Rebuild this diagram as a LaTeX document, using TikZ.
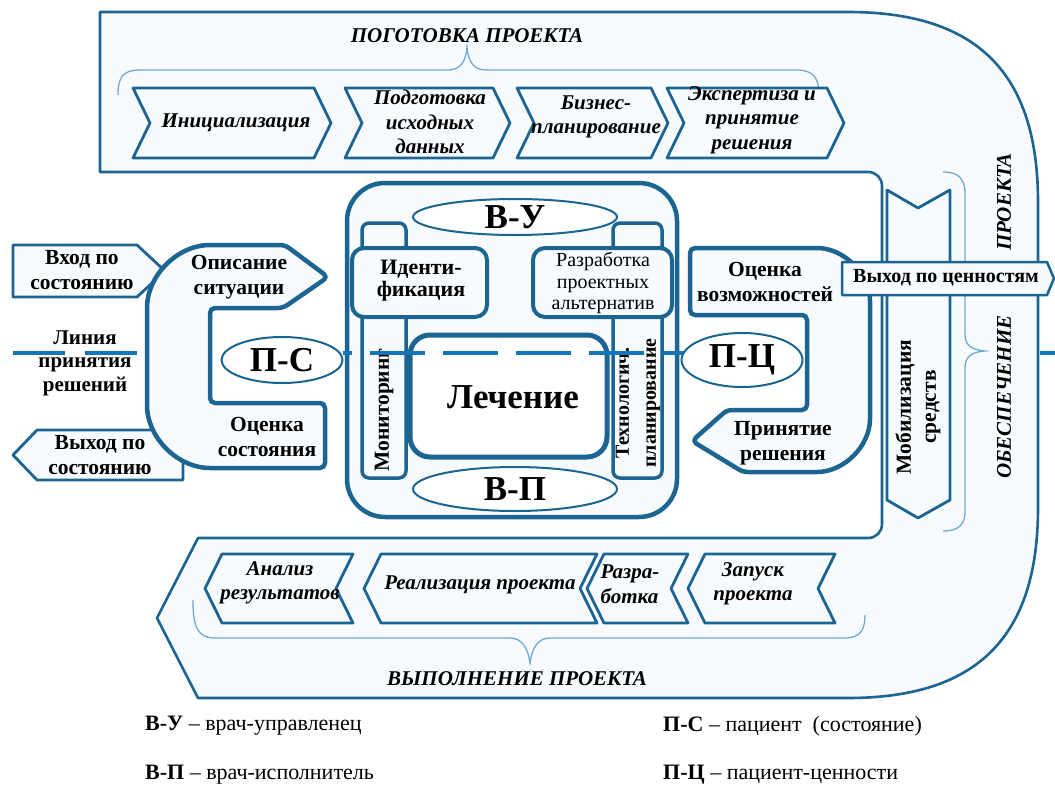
\documentclass[tikz,border=0pt]{standalone}
\usepackage{fontspec}
\setmainfont{Liberation Serif}
\usetikzlibrary{shapes.geometric}
\definecolor{dblue}{RGB}{28,100,145}
\definecolor{lblue}{RGB}{110,170,215}
\definecolor{lineblue}{RGB}{20,118,185}
\definecolor{pale}{RGB}{248,251,253}
\tikzset{
  shapeline/.style={draw=dblue, fill=pale, line join=round},
  chev/.style={shapeline, line width=2.8pt},
  thickshape/.style={shapeline, line width=4.5pt},
  bracestyle/.style={draw=lblue, line width=1.3pt},
  ital/.style={font=\fontsize{21}{24.5}\selectfont\bfseries\itshape, align=center, inner sep=0pt},
  lbl/.style={font=\fontsize{21.5}{24.5}\selectfont\bfseries, align=center, inner sep=0pt},
  big/.style={font=\fontsize{35}{38}\selectfont\bfseries},
  oval/.style={draw=dblue, fill=white, ellipse, line width=2pt, inner sep=0pt},
  legend/.style={font=\fontsize{22}{24}\selectfont, anchor=west, inner sep=0pt},
  declinesolid/.style={draw=lineblue, line width=4.5pt},
}
\newcommand\rchev[4]{% left x, right x, top y, bottom y
  \draw[chev] (#1,#3) -- (#2,#3) -- ({#2+17},{(#3+#4)/2}) -- (#2,#4) -- (#1,#4) -- ({#1+17},{(#3+#4)/2}) -- cycle;}
\newcommand\lchev[4]{%
  \draw[chev] (#1,#3) -- (#2,#3) -- ({#2-17},{(#3+#4)/2}) -- (#2,#4) -- (#1,#4) -- ({#1-17},{(#3+#4)/2}) -- cycle;}
\begin{document}
\begin{tikzpicture}[x=1pt,y=-1pt]
\useasboundingbox[fill=white] (0,0) rectangle (1055,787);

% outer band shape
\draw[shapeline, line width=2.6pt] (100,12) -- (848,12) .. controls (977,12) and (1038,73) .. (1038,202)
  -- (1038,508) .. controls (1038,637) and (977,698) .. (848,698) -- (198,698) -- (157,618) -- (198,538)
  -- (868,538) .. controls (876,538) and (882,532) .. (882,524) -- (882,186)
  .. controls (882,178) and (876,172) .. (868,172) -- (100,172) -- cycle;

% top: preparation
\node[ital] (prep) at (467,36) {ПОГОТОВКА ПРОЕКТА};
\draw[bracestyle] (118,95) .. controls (118,77) and (123,70) .. (140,70) -- (448,70)
  .. controls (460,70) and (466,62) .. (467,47) .. controls (468,62) and (474,70) .. (486,70)
  -- (797,70) .. controls (813,70) and (819,78) .. (819,94);
\rchev{133}{314}{88}{158}
\rchev{345}{493}{88}{158}
\rchev{517}{651}{88}{158}
\rchev{667}{827}{88}{158}
\node[ital] (init) at (236,123) {Инициализация};
\node[ital] (podg) at (430,122) {Подготовка\\исходных\\данных};
\node[ital] (biz) at (596,117) {Бизнес-\\планирование};
\node[ital] (exp) at (752,120) {Экспертиза и\\принятие\\решения};

% bottom: execution
\lchev{222}{353}{554}{623}
\lchev{381}{597}{554}{623}
\lchev{604}{688}{554}{623}
\lchev{705}{835}{554}{623}
\node[ital] (anal) at (280,583) {Анализ\\результатов};
\node[ital] (real) at (480,585) {Реализация проекта};
\node[ital, align=left] (razr) at (630,584) {Разра-\\ботка};
\node[ital] (zap) at (753,584) {Запуск\\проекта};
\draw[bracestyle] (193,600) .. controls (193,628) and (198,638) .. (215,638) -- (510,638)
  .. controls (522,638) and (528,648) .. (530,663) .. controls (532,648) and (538,638) .. (550,638)
  -- (845,638) .. controls (860,638) and (865,630) .. (865,615);
\node[ital] (exec) at (517,679) {ВЫПОЛНЕНИЕ ПРОЕКТА};

% right: support
\draw[chev] (887,190) -- (918,208) -- (950,190) -- (950,500) -- (918,518) -- (887,500) -- cycle;
\node[lbl, rotate=90, font=\fontsize{21.5}{25}\selectfont\bfseries] (mob) at (918,407) {Мобилизация\\средств};
\draw[bracestyle] (943,172) .. controls (958,172) and (965,178) .. (965,194) -- (965,334)
  .. controls (965,345) and (971,350) .. (985,351) .. controls (971,352) and (965,357) .. (965,368)
  -- (965,512) .. controls (965,525) and (958,531) .. (943,531);
\node[ital, rotate=90] (obesp) at (1004,397) {ОБЕСПЕЧЕНИЕ};
\node[ital, rotate=90] (proekta) at (1004,202) {ПРОЕКТА};

% left: decision line
\coordinate (dl1) at (13,353); \coordinate (dl2) at (65,353);
\coordinate (dl3) at (85,353); \coordinate (dl4) at (137,353);
\draw[declinesolid] (dl1) -- (dl2);
\draw[declinesolid] (dl3) -- (dl4);
\node[lbl, font=\fontsize{21}{23.5}\selectfont\bfseries] (linia) at (85,363) {Линия\\принятия\\решений};

\draw[chev] (13,245) -- (137,245) -- (165,271) -- (137,297) -- (13,297) -- cycle;
\node[lbl] (vhod) at (82,270) {Вход по\\состоянию};
\draw[chev] (13,455) -- (37,430) -- (183,430) -- (183,480) -- (37,480) -- cycle;
\node[lbl] (vyhod) at (100,455) {Выход по\\состоянию};

% left C shape
\draw[thickshape, rounded corners=5pt] (285,245) -- (215,245) arc[start angle=-90, end angle=-180, radius=68]
  -- (147,400) arc[start angle=180, end angle=90, radius=68] -- (325,468) -- (325,403) -- (210,403)
  -- (210,308) -- (283,308) -- (328,277) -- cycle;
\node[lbl] (opis) at (239,277) {Описание\\ситуации};
\node[lbl] (ocsost) at (267,437) {Оценка\\состояния};

% central block
\draw[thickshape, rounded corners=38pt] (347,183) rectangle (677,517);
\draw[shapeline, line width=3.5pt, rounded corners=7pt] (362,223) rectangle (406,478);
\draw[shapeline, line width=3.5pt, rounded corners=7pt] (613,223) rectangle (662,478);
\draw[shapeline, line width=4pt, rounded corners=12pt] (352,248) rectangle (487,317);
\draw[shapeline, line width=4pt, rounded corners=12pt] (533,248) rectangle (672,317);
\draw[shapeline, fill=white, line width=5pt, rounded corners=20pt] (410,335) rectangle (607,457);
\node[oval, big, minimum width=204pt, minimum height=36pt] (vu) at (515,217) {В-У};
\node[oval, big, minimum width=204pt, minimum height=44pt] (vp) at (515,489) {В-П};
\node[lbl, font=\fontsize{22}{22}\selectfont\bfseries] (ident) at (421,281) {Иденти-\\фикация};
\node[lbl, font=\fontsize{20}{21.5}\selectfont\mdseries] (razrab) at (603,283) {Разработка\\проектных\\альтернатив};
\node[lbl, rotate=90] (monit) at (384,410) {Мониторинг};
\node[lbl, rotate=90, font=\fontsize{20}{27}\selectfont\bfseries] (tehn) at (638,403) {Технологич.\\планирование};
\node[big, inner sep=0pt] (lech) at (513,397) {Лечение};

% decision line through the centre
\coordinate (dc1) at (343,353); \coordinate (dc2) at (685,353);
\draw[declinesolid, dash pattern=on 55pt off 18pt, dash phase=46pt] (dc1) -- (dc2);

\node[oval, big, minimum width=121pt, minimum height=46pt] (ps) at (282,360) {П-С};
\node[oval, big, minimum width=121pt, minimum height=54pt] (pc) at (742,360) {П-Ц};

% right D shape
\draw[thickshape, rounded corners=5pt] (690,248) -- (812,248) arc[start angle=-90, end angle=0, radius=58]
  -- (870,414) arc[start angle=0, end angle=90, radius=58] -- (743,472) -- (692,441) -- (727,410)
  -- (807,410) -- (807,315) -- (690,315) -- cycle;
\node[lbl] (ocvoz) at (765,282) {Оценка\\возможностей};
\node[lbl] (prin) at (783,443) {Принятие\\решения};

\draw[shapeline, line width=2.5pt] (842,262) -- (1047,262) -- (1054,278.5) -- (1047,295) -- (842,295) -- cycle;
\node[lbl, font=\fontsize{20}{23}\selectfont\bfseries] (vyhc) at (946,278) {Выход по ценностям};

\coordinate (dr1) at (1040,353); \coordinate (dr2) at (1055,353);
\draw[declinesolid] (dr1) -- (dr2);

% legend
\node[legend] (leg1) at (145,726) {\textbf{В-У} – врач-управленец};
\node[legend] (leg2) at (145,775) {\textbf{В-П} – врач-исполнитель};
\node[legend] (leg3) at (663,726) {\textbf{П-С} – пациент \ (состояние)};
\node[legend] (leg4) at (663,775) {\textbf{П-Ц} – пациент-ценности};
\end{tikzpicture}
\end{document}
